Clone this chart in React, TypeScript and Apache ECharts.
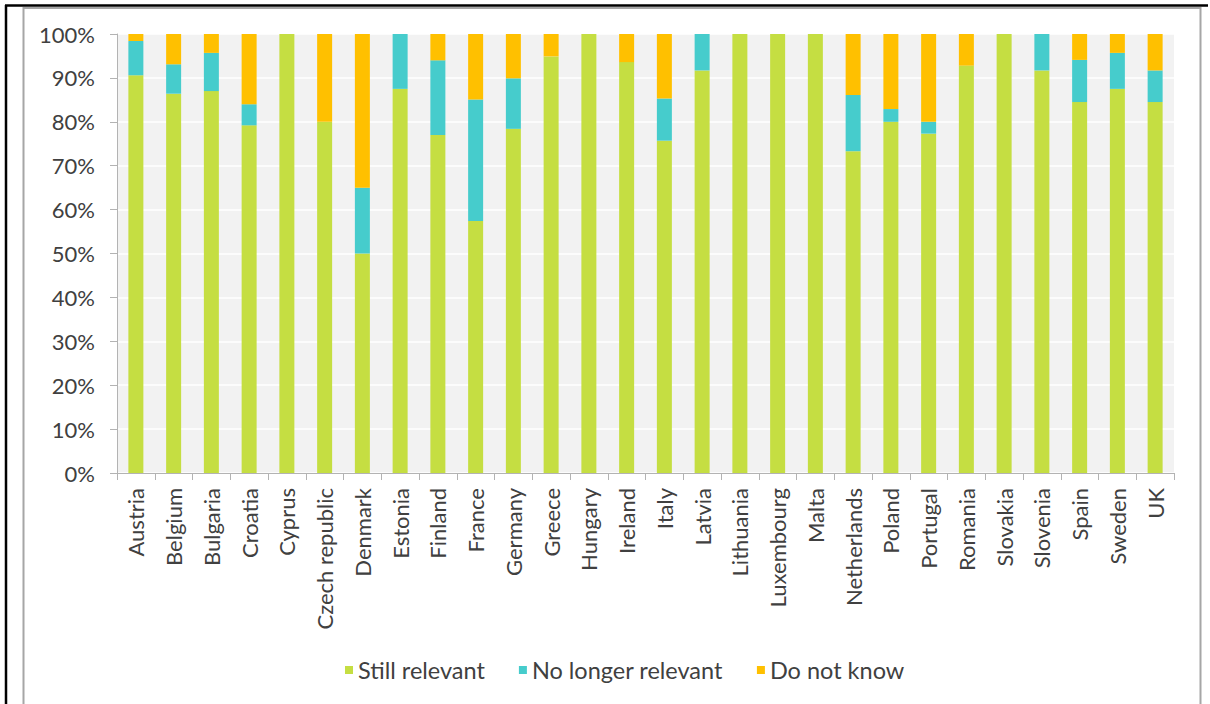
import React, { useEffect, useRef } from "react";
import * as echarts from "echarts";

// Countries on the category axis
const countries = [
  "Austria", "Belgium", "Bulgaria", "Croatia", "Cyprus", "Czech republic", "Denmark",
  "Estonia", "Finland", "France", "Germany", "Greece", "Hungary", "Ireland", "Italy",
  "Latvia", "Lithuania", "Luxembourg", "Malta", "Netherlands", "Poland", "Portugal",
  "Romania", "Slovakia", "Slovenia", "Spain", "Sweden", "UK",
];

// Shares of answers per country (%)
const stillRelevant = [
  90.6, 86.4, 87.0, 79.2, 100, 80.0, 50.0,
  87.5, 77.0, 57.4, 78.4, 94.9, 100, 93.6, 75.7,
  91.7, 100, 100, 100, 73.3, 80.0, 77.3,
  92.8, 100, 91.7, 84.5, 87.5, 84.5,
];
const noLongerRelevant = [
  7.8, 6.7, 8.7, 4.8, 0, 0, 15.0,
  12.5, 17.0, 27.7, 11.5, 0, 0, 0, 9.6,
  8.3, 0, 0, 0, 12.8, 2.9, 2.7,
  0, 0, 8.3, 9.6, 8.2, 7.2,
];
const doNotKnow = [
  1.6, 6.9, 4.3, 16.0, 0, 20.0, 35.0,
  0, 6.0, 14.9, 10.1, 5.1, 0, 6.4, 14.7,
  0, 0, 0, 0, 13.9, 17.1, 20.0,
  7.2, 0, 0, 5.9, 4.3, 8.3,
];

const seriesNames = ["Still relevant", "No longer relevant", "Do not know"];
const seriesColors = ["#C5DE42", "#46CCCC", "#FFC000"];
const yTicks = [0, 10, 20, 30, 40, 50, 60, 70, 80, 90, 100];

const FONT = "Lato, 'Open Sans', sans-serif";
const TEXT = "#404040";

export default function App() {
  const ref = useRef<HTMLDivElement>(null);

  useEffect(() => {
    if (!ref.current) return;
    const chart = echarts.init(ref.current, undefined, { renderer: "svg" });
    const values = [stillRelevant, noLongerRelevant, doNotKnow];

    chart.setOption({
      animation: false,
      backgroundColor: "#FFFFFF",
      textStyle: { fontFamily: FONT },
      graphic: [
        {
          type: "rect",
          shape: { x: 23.5, y: 8, width: 1177, height: 720 },
          style: { fill: "none", stroke: "#A6A6A6", lineWidth: 2 },
          silent: true,
        },
        {
          type: "line",
          shape: { x1: 5, y1: 5.5, x2: 1208, y2: 5.5 },
          style: { stroke: "#000000", lineWidth: 2.5 },
          silent: true,
        },
        {
          type: "line",
          shape: { x1: 6, y1: 5, x2: 6, y2: 704 },
          style: { stroke: "#000000", lineWidth: 2.5 },
          silent: true,
        },
      ],
      legend: {
        data: seriesNames,
        left: 340,
        top: 653,
        icon: "rect",
        itemWidth: 8,
        itemHeight: 8,
        itemGap: 34,
        textStyle: { color: TEXT, fontSize: 23.5, fontFamily: FONT },
      },
      grid: {
        left: 117,
        right: 36,
        top: 34,
        bottom: 231,
        show: true,
        backgroundColor: "#F2F2F2",
        borderWidth: 0,
      },
      xAxis: {
        type: "category",
        data: countries,
        boundaryGap: true,
        axisLine: { show: true, lineStyle: { color: "#B3B3B3", width: 1 } },
        axisTick: { show: true, alignWithLabel: false, length: 7, lineStyle: { color: "#B3B3B3" } },
        axisLabel: {
          rotate: 90,
          interval: 0,
          margin: 15,
          color: TEXT,
          fontSize: 22,
          fontFamily: FONT,
        },
      },
      yAxis: {
        type: "value",
        min: yTicks[0],
        max: yTicks[yTicks.length - 1],
        interval: 10,
        axisLine: { show: true, lineStyle: { color: "#B3B3B3", width: 1 } },
        axisTick: { show: true, length: 7, lineStyle: { color: "#B3B3B3" } },
        splitLine: { show: true, lineStyle: { color: "#FFFFFF", width: 1.5 } },
        axisLabel: {
          formatter: "{value}%",
          margin: 22,
          color: TEXT,
          fontSize: 22,
          fontFamily: FONT,
        },
      },
      series: seriesNames.map((name, i) => ({
        name,
        type: "bar",
        stack: "total",
        barWidth: 15,
        data: values[i],
        itemStyle: { color: seriesColors[i] },
      })),
    });

    return () => chart.dispose();
  }, []);

  return (
    <div
      ref={ref}
      style={{ position: "fixed", left: 0, top: 0, width: 1210, height: 704 }}
    />
  );
}
